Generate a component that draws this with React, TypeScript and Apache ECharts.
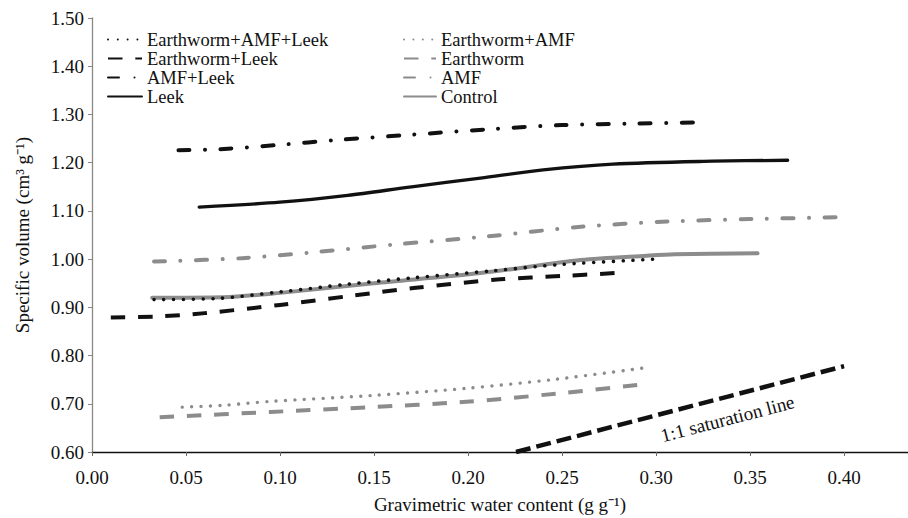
import React, { useEffect, useRef } from "react";
import * as echarts from "echarts";

const SERIF = "Liberation Serif";
const BLACK = "#111111";
const GRAY = "#8c8c8c";

// Earthworm+AMF+Leek (black dotted)
const ewAmfLeekX = [0.033, 0.065, 0.1, 0.136, 0.17, 0.2135, 0.25, 0.3];
const ewAmfLeekY = [0.916, 0.918, 0.932, 0.948, 0.961, 0.976, 0.989, 1.0];
// Earthworm+Leek (black dashed)
const ewLeekX = [0.01, 0.035, 0.06, 0.1, 0.14, 0.171, 0.217, 0.25, 0.278];
const ewLeekY = [0.879, 0.881, 0.888, 0.905, 0.925, 0.94, 0.958, 0.965, 0.971];
// AMF+Leek (black dash-dot)
const amfLeekX = [0.046, 0.068, 0.1, 0.13, 0.17, 0.21, 0.25, 0.29, 0.327];
const amfLeekY = [1.226, 1.228, 1.237, 1.247, 1.258, 1.269, 1.278, 1.281, 1.284];
// Leek (black solid)
const leekX = [0.057, 0.1, 0.136, 0.17, 0.2066, 0.24, 0.277, 0.33, 0.37];
const leekY = [1.108, 1.118, 1.132, 1.15, 1.168, 1.185, 1.197, 1.203, 1.205];
// Earthworm+AMF (gray dotted)
const ewAmfX = [0.048, 0.07, 0.095, 0.148, 0.199, 0.247, 0.297];
const ewAmfY = [0.693, 0.697, 0.705, 0.717, 0.732, 0.751, 0.776];
// Earthworm (gray dashed)
const ewX = [0.036, 0.095, 0.148, 0.199, 0.247, 0.29];
const ewY = [0.672, 0.683, 0.693, 0.704, 0.721, 0.739];
// AMF (gray dash-dot)
const amfX = [0.033, 0.08, 0.12, 0.16, 0.21, 0.26, 0.306, 0.35, 0.4];
const amfY = [0.995, 1.002, 1.015, 1.03, 1.047, 1.067, 1.078, 1.083, 1.087];
// Control (gray solid)
const controlX = [0.032, 0.07, 0.1, 0.15, 0.2066, 0.26, 0.295, 0.31, 0.354];
const controlY = [0.92, 0.921, 0.93, 0.95, 0.971, 0.998, 1.007, 1.01, 1.012];
// 1:1 saturation line
const satX = [0.2255, 0.4];
const satY = [0.6, 0.778];
const satLabel = "1:1 saturation line";
const satLabelPos = [0.338, 0.669];

const leftLegend = ["Earthworm+AMF+Leek", "Earthworm+Leek", "AMF+Leek", "Leek"];
const rightLegend = ["Earthworm+AMF", "Earthworm", "AMF", "Control"];

const xTitle = "Gravimetric water content (g g\u207B\u00B9)";
const yTitle = "Specific volume (cm\u00B3 g\u207B\u00B9)";

const pairs = (xs: number[], ys: number[]) => xs.map((x, i) => [x, ys[i]]);

function line(name: string, xs: number[], ys: number[], color: string, width: number, type: any, cap: string, smooth: number = 0.3) {
  return {
    name,
    type: "line",
    data: pairs(xs, ys),
    symbol: "none",
    showSymbol: false,
    smooth,
    lineStyle: { color, width, type, cap, join: "round" },
    itemStyle: { color },
    z: 3,
  };
}

const DOT_B = [0.01, 9.8];
const DOT_G = [0.01, 9.4];
const DASH = [14.5, 12.8];
const DASHDOT = [11, 15.5, 0.01, 15.5];

export default function App() {
  const ref = useRef<HTMLDivElement>(null);
  useEffect(() => {
    document.body.style.margin = "0";
    if (!ref.current) return;
    const chart = echarts.init(ref.current, undefined, { renderer: "svg" });
    const legendCommon = {
      orient: "vertical",
      itemHeight: 10,
      itemGap: 0,
      padding: 0,
      itemStyle: { opacity: 0 },
      textStyle: { fontFamily: SERIF, fontSize: 18.5, color: "#111" },
      selectedMode: false,
    };
    chart.setOption({
      animation: false,
      backgroundColor: "#ffffff",
      grid: { left: 92, right: 0, top: 18, bottom: 66, containLabel: false, outerBoundsMode: "none" },
      xAxis: {
        type: "value",
        min: 0,
        max: 0.434,
        interval: 0.05,
        name: xTitle,
        nameLocation: "middle",
        nameGap: 43,
        nameTextStyle: { fontFamily: SERIF, fontSize: 19, color: "#111" },
        axisLine: { show: true, onZero: false, lineStyle: { color: "#111", width: 1.3 } },
        axisTick: { show: true, length: 4, lineStyle: { color: "#666" } },
        axisLabel: {
          fontFamily: SERIF,
          fontSize: 19,
          color: "#111",
          margin: 16,
          formatter: (v: number) => {
            const k = v / 0.05;
            return Math.abs(k - Math.round(k)) < 1e-6 ? v.toFixed(2) : "";
          },
        },
        splitLine: { show: false },
      },
      yAxis: {
        type: "value",
        min: 0.6,
        max: 1.5,
        interval: 0.1,
        name: yTitle,
        nameLocation: "middle",
        nameGap: 60,
        nameTextStyle: { fontFamily: SERIF, fontSize: 19, color: "#111" },
        axisLine: { show: true, lineStyle: { color: "#888", width: 1.3 } },
        axisTick: { show: true, length: 4, lineStyle: { color: "#888" } },
        axisLabel: {
          fontFamily: SERIF,
          fontSize: 19,
          color: "#111",
          margin: 8,
          formatter: (v: number) => v.toFixed(2),
        },
        splitLine: { show: false },
      },
      legend: [
        { ...legendCommon, left: 107, top: 30, itemWidth: 34, data: leftLegend },
        { ...legendCommon, left: 403, top: 30, itemWidth: 32, data: rightLegend },
      ],
      series: [
        {
          name: "saturation",
          type: "line",
          data: pairs(satX, satY),
          symbol: "none",
          lineStyle: { color: BLACK, width: 4.5, type: [15, 6], cap: "butt" },
          z: 2,
        },
        line("Earthworm+AMF+Leek", ewAmfLeekX, ewAmfLeekY, BLACK, 3.6, DOT_B, "round"),
        line("Earthworm+Leek", ewLeekX, ewLeekY, BLACK, 4, DASH, "butt"),
        line("AMF+Leek", amfLeekX, amfLeekY, BLACK, 4, DASHDOT, "round"),
        line("Leek", leekX, leekY, BLACK, 3.3, "solid", "round"),
        line("Earthworm+AMF", ewAmfX, ewAmfY, GRAY, 3.4, DOT_G, "round"),
        line("Earthworm", ewX, ewY, GRAY, 4, DASH, "butt"),
        line("AMF", amfX, amfY, GRAY, 4, DASHDOT, "round"),
        { ...line("Control", controlX, controlY, GRAY, 4, "solid", "round"), z: 2 },
      ],
    });
    const p = chart.convertToPixel({ gridIndex: 0 }, satLabelPos) as number[];
    chart.setOption({
      graphic: [
        {
          type: "text",
          x: p[0],
          y: p[1],
          rotation: (14.6 * Math.PI) / 180,
          style: {
            text: satLabel,
            fontFamily: SERIF,
            fontSize: 19,
            fill: "#111",
            textAlign: "center",
            textVerticalAlign: "middle",
          },
        },
      ],
    });
    return () => chart.dispose();
  }, []);
  return <div ref={ref} style={{ width: 908, height: 518 }} />;
}
